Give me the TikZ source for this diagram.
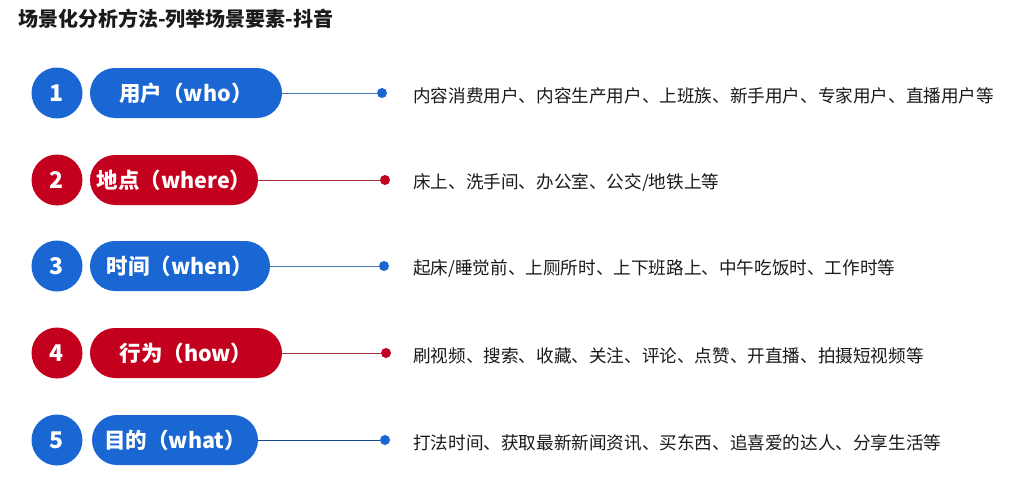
\documentclass[tikz,border=0pt]{standalone}
\usepackage{fontspec}
\setmainfont{Noto Sans CJK SC}
\newfontfamily\cjk{Noto Sans CJK SC}
\definecolor{myblue}{HTML}{1A66D2}
\definecolor{myred}{HTML}{C4001F}
\definecolor{bline}{HTML}{4A78B8}
\definecolor{rline}{HTML}{A0303C}
\definecolor{txt}{HTML}{1A1A1A}
\tikzset{
  numc/.style={circle, fill=#1, minimum size=51pt, inner sep=0pt, text=white, font=\cjk\bfseries\fontsize{23}{23}\selectfont},
  pill/.style={rounded corners=25pt, fill=#1, minimum height=50pt, inner sep=0pt, text=white, font=\cjk\bfseries\fontsize{21.5}{21.5}\selectfont},
  dotn/.style={circle, fill=#1, minimum size=10pt, inner sep=0pt},
  conn/.style={draw=#1, line width=0.9pt},
  desc/.style={anchor=west, inner sep=0pt, text=txt, font=\cjk\fontsize{17.6}{17.6}\selectfont},
  ttl/.style={anchor=west, inner sep=0pt, text=txt, font=\cjk\bfseries\fontsize{20}{20}\selectfont}
}
\begin{document}
\begin{tikzpicture}[x=1pt,y=-1pt]
\useasboundingbox[fill=white] (0,0) rectangle (1013,479);
\node[ttl] (title) at (18,19) {场景化分析方法-列举场景要素-抖音};
% row 1
\node[numc=myblue] (c1) at (57,93) {1};
\node[pill=myblue, minimum width=192pt] (p1) at (186,93) {用户（who）};
\node[dotn=myblue] (d1) at (382,93) {};
\draw[conn=bline] (p1.east) -- (d1);
\node[desc] (t1) at (413,96) {内容消费用户、内容生产用户、上班族、新手用户、专家用户、直播用户等};
% row 2
\node[numc=myred] (c2) at (57,180) {2};
\node[pill=myred, minimum width=168pt] (p2) at (174,180) {地点（where）};
\node[dotn=myred] (d2) at (385,180) {};
\draw[conn=rline] (p2.east) -- (d2);
\node[desc] (t2) at (413,183) {床上、洗手间、办公室、公交/地铁上等};
% row 3
\node[numc=myblue] (c3) at (57,266) {3};
\node[pill=myblue, minimum width=180pt] (p3) at (180,266) {时间（when）};
\node[dotn=myblue] (d3) at (384,266) {};
\draw[conn=bline] (p3.east) -- (d3);
\node[desc] (t3) at (413,269) {起床/睡觉前、上厕所时、上下班路上、中午吃饭时、工作时等};
% row 4
\node[numc=myred] (c4) at (57,353) {4};
\node[pill=myred, minimum width=192pt] (p4) at (186,353) {行为（how）};
\node[dotn=myred] (d4) at (386,353) {};
\draw[conn=rline] (p4.east) -- (d4);
\node[desc] (t4) at (413,356) {刷视频、搜索、收藏、关注、评论、点赞、开直播、拍摄短视频等};
% row 5
\node[numc=myblue] (c5) at (57,440) {5};
\node[pill=myblue, minimum width=166pt] (p5) at (175,440) {目的（what）};
\node[dotn=myblue] (d5) at (385,440) {};
\draw[conn=myblue!70!black] (p5.east) -- (d5);
\node[desc] (t5) at (413,443) {打法时间、获取最新新闻资讯、买东西、追喜爱的达人、分享生活等};
\end{tikzpicture}
\end{document}
